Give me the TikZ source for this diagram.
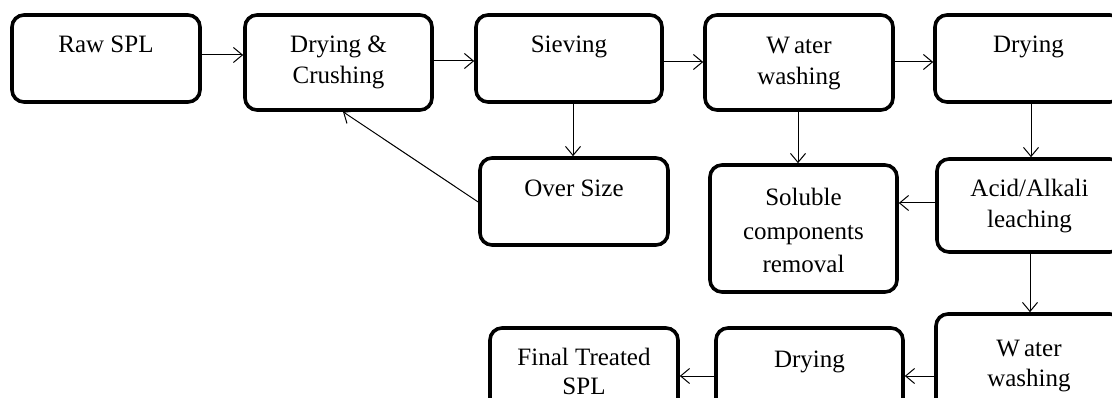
\documentclass[tikz,border=0pt]{standalone}
\usepackage{fontspec}
\setmainfont{Liberation Serif}
\usetikzlibrary{arrows.meta,calc}
\begin{document}
\begin{tikzpicture}[x=1pt,y=-1pt,
  pbox/.style={draw, line width=3.6pt, rounded corners=12pt, inner sep=0pt, rectangle},
  ptext/.style={inner sep=0pt, align=center, anchor=north, font=\fontsize{25}{31}\selectfont},
  arr/.style={line width=1pt, -{Straight Barb[length=9pt,width=15pt,line width=1pt]}}]
\useasboundingbox (0,0) rectangle (1112,398);
\clip (0,0) rectangle (1112,398);
\fill[white] (0,0) rectangle (1112,398);
% row 1
\node[pbox, minimum width=188pt, minimum height=87pt] (raw)  at (106,58.5) {};
\node[pbox, minimum width=187pt, minimum height=95pt] (dc)   at (338.5,62.5) {};
\node[pbox, minimum width=186pt, minimum height=87pt] (siev) at (569,58.5) {};
\node[pbox, minimum width=188pt, minimum height=95pt] (ww1)  at (799,62.5) {};
\node[pbox, minimum width=187pt, minimum height=87pt] (dry1) at (1028.5,58.5) {};
% row 2
\node[pbox, minimum width=188pt, minimum height=87pt] (over) at (574,201.5) {};
\node[pbox, minimum width=187pt, minimum height=127pt] (sol) at (803.5,228.5) {};
\node[pbox, minimum width=185pt, minimum height=93pt] (acid) at (1029.5,205.5) {};
% row 3
\node[pbox, minimum width=188pt, minimum height=100pt] (final) at (584,378) {};
\node[pbox, minimum width=187pt, minimum height=100pt] (dry2) at (809.5,378) {};
\node[pbox, minimum width=186pt, minimum height=112pt] (ww2) at (1029,370) {};
% texts
\node[ptext] (rawT)   at ([yshift=-17pt]raw.north)  {\strut Raw SPL};
\node[ptext] (dcT)    at ([yshift=-17pt]dc.north)   {\strut Drying \&\\Crushing};
\node[ptext] (sievT)  at ([yshift=-17pt]siev.north) {\strut Sieving};
\node[ptext] (ww1T)   at ([yshift=-18pt]ww1.north)  {\strut W\,ater\\washing};
\node[ptext] (dry1T)  at ([yshift=-17pt]dry1.north) {\strut Drying};
\node[ptext] (overT)  at ([yshift=-18pt]over.north) {\strut Over Size};
\node[ptext, font=\fontsize{25}{33.5}\selectfont] (solT) at ([yshift=-19pt]sol.north) {\strut Soluble\\components\\removal};
\node[ptext] (acidT)  at ([yshift=-17pt]acid.north) {\strut Acid/Alkali\\leaching};
\node[ptext, font=\fontsize{25}{29}\selectfont] (finalT) at ([yshift=-19pt]final.north) {\strut Final Treated\\SPL};
\node[ptext] (dry2T)  at ([yshift=-19pt]dry2.north) {\strut Drying};
\node[ptext, font=\fontsize{25}{30}\selectfont] (ww2T) at ([yshift=-23pt]ww2.north) {\strut W\,ater\\washing};
% connectors
\draw[arr] (raw.east |- 0,55) -- (dc.west |- 0,55);
\draw[arr] (dc.east |- 0,61) -- (siev.west |- 0,61);
\draw[arr] (siev.east |- 0,62) -- (ww1.west |- 0,62);
\draw[arr] (ww1.east |- 0,62) -- (dry1.west |- 0,62);
\draw[arr] (siev.south -| 573,0) -- (over.north -| 573,0);
\draw[arr] (ww1.south -| 798,0) -- (sol.north -| 798,0);
\draw[arr] (dry1.south -| 1031,0) -- (acid.north -| 1031,0);
\draw[arr] (acid.west |- 0,203) -- (sol.east |- 0,203);
\draw[arr] (acid.south -| 1030,0) -- (ww2.north -| 1030,0);
\draw[arr] (ww2.west |- 0,376) -- (dry2.east |- 0,376);
\draw[arr] (dry2.west |- 0,376) -- (final.east |- 0,376);
\draw[arr] (over.west |- 0,202) -- (dc.south -| 343,0);
\end{tikzpicture}
\end{document}
